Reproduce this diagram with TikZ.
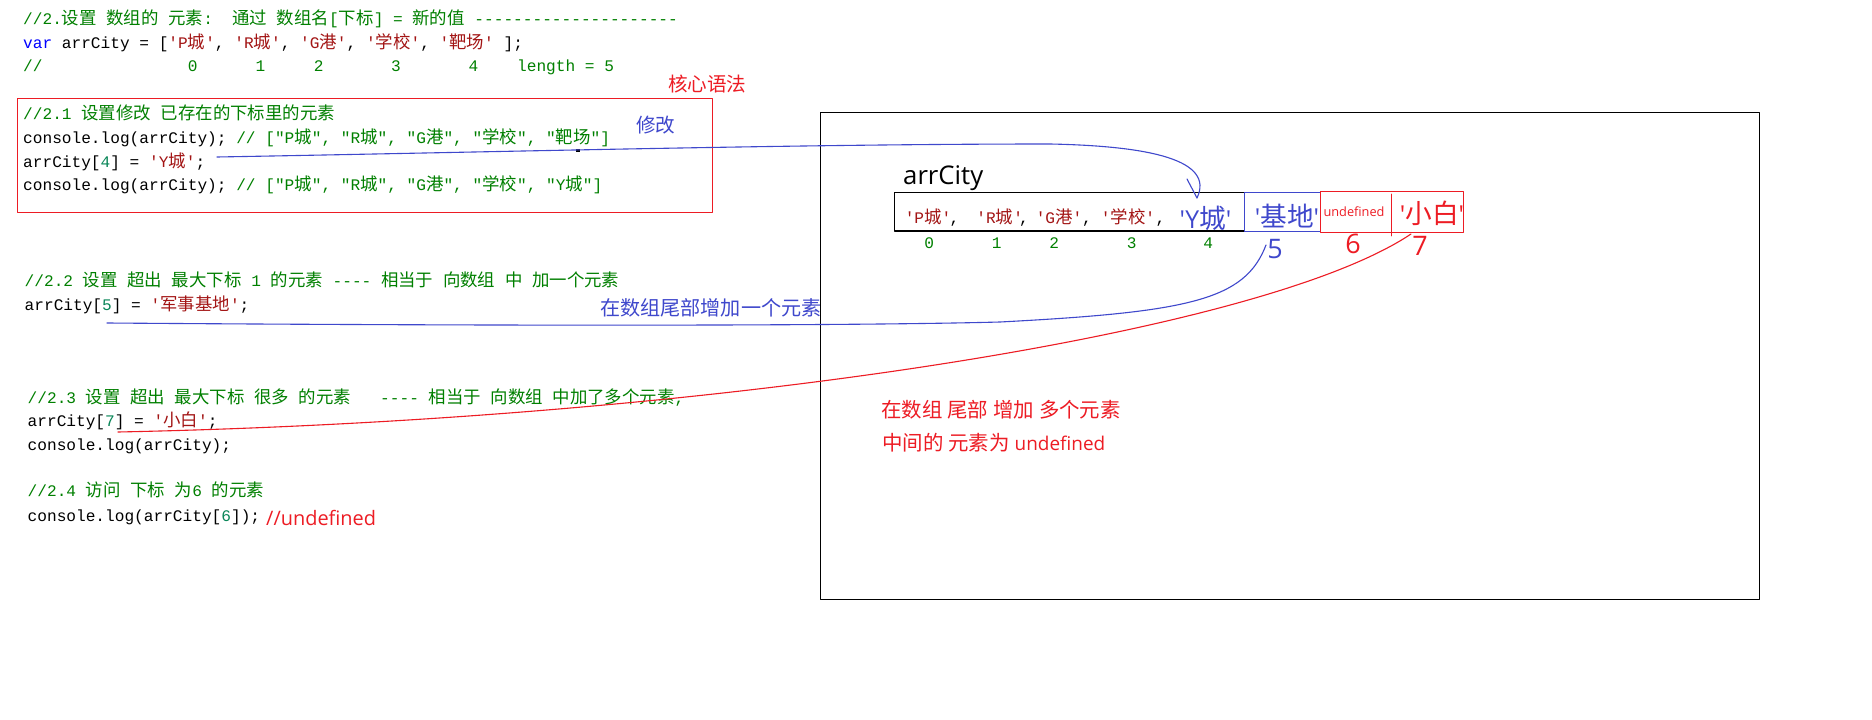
\documentclass[tikz,border=0pt]{standalone}
\usepackage{fontspec}
\setmonofont{Liberation Mono}
\newfontfamily\cjkf[Scale=1.08]{Noto Sans CJK SC}
\newfontfamily\latf[Ligatures=TeXOff]{Open Sans}
\makeatletter
\newXeTeXintercharclass\cjkcls
\count@="3000
\loop\ifnum\count@<"A000\relax
  \XeTeXcharclass\count@=\cjkcls
  \advance\count@ by 1\relax
\repeat
\count@="FF00
\loop\ifnum\count@<"FFF0\relax
  \XeTeXcharclass\count@=\cjkcls
  \advance\count@ by 1\relax
\repeat
\def\cjkon{\edef\savedfam{\f@family}\cjkf}
\def\cjkoff{\fontfamily{\savedfam}\selectfont}
\XeTeXinterchartoks 0 \cjkcls={\cjkon}
\XeTeXinterchartoks 4095 \cjkcls={\cjkon}
\XeTeXinterchartoks \cjkcls 0={\cjkoff}
\XeTeXinterchartoks \cjkcls 4095={\cjkoff}
\makeatother
\XeTeXinterchartokenstate=1
\definecolor{cmt}{HTML}{008000}
\definecolor{str}{HTML}{A31515}
\definecolor{kwd}{HTML}{0000FF}
\definecolor{num}{HTML}{098658}
\definecolor{pblue}{HTML}{3F48CC}
\definecolor{pred}{HTML}{ED1C24}
\newcommand\ccm[1]{\textcolor{cmt}{#1}}
\newcommand\cst[1]{\textcolor{str}{#1}}
\newcommand\ckw[1]{\textcolor{kwd}{#1}}
\newcommand\cnm[1]{\textcolor{num}{#1}}
\tikzset{
  code/.style={anchor=base west, inner sep=0pt, font=\ttfamily\fontsize{16.2}{19}\selectfont},
  codec/.style={code, anchor=base},
  ann/.style={anchor=base west, inner sep=0pt, font=\latf\fontsize{#1}{#1}\selectfont},
  annc/.style={ann=#1, anchor=base},
  bline/.style={draw=pblue, line width=1.1bp},
  rline/.style={draw=pred, line width=1.1bp},
}
\begin{document}
\begin{tikzpicture}[x=1bp,y=-1bp,line cap=round,line join=round]
\fill[white] (0,0) rectangle (1872,720);
\useasboundingbox (0,0) rectangle (1872,720);

% ---- code, top
\node[code] (l1) at (23,25) {\ccm{//2.设置 数组的 元素:~~通过 数组名[下标] = 新的值 ---------------------}};
\node[code] (l2) at (23,49) {\ckw{var} arrCity = [\cst{'P城'}, \cst{'R城'}, \cst{'G港'}, \cst{'学校'}, \cst{'靶场'} ];};
\node[code] (l3) at (23,72) {\ccm{//~~~~~~~~~~~~~~~0~~~~~~1~~~~~2~~~~~~~3~~~~~~~4~~~~length = 5}};

\node[ann=18.2, text=pred] (core) at (668,92) {核心语法};

% ---- 2.1
\draw[draw=pred, line width=1bp] (17,99) rectangle (712,212.3);
\node[code] (a1) at (23,120) {\ccm{//2.1 设置修改 已存在的下标里的元素}};
\node[code] (a2) at (23,143.5) {console.log(arrCity); \ccm{// ["P城", "R城", "G港", "学校", "靶场"]}};
\node[code] (a3) at (23,167.5) {arrCity[\cnm{4}] = \cst{'Y城'};};
\node[code] (a4) at (23,190.5) {console.log(arrCity); \ccm{// ["P城", "R城", "G港", "学校", "Y城"]}};
\node[ann=18.2, text=pblue] (modify) at (636,133) {修改};
\fill (576,149.5) rectangle (580,152);

% ---- 2.2
\node[code] (b1) at (24.5,286) {\ccm{//2.2 设置 超出 最大下标 1 的元素 ---- 相当于 向数组 中 加一个元素}};
\node[code] (b2) at (24.5,310) {arrCity[\cnm{5}] = \cst{'军事基地'};};
\node[ann=18.7, text=pblue] (addone) at (600,315.5) {在数组尾部增加一个元素};

% ---- 2.3
\node[code] (c1) at (27.5,403) {\ccm{//2.3 设置 超出 最大下标 很多 的元素~~~---- 相当于 向数组 中加了多个元素,}};
\node[code] (c2) at (27.5,426) {arrCity[\cnm{7}] = \cst{'小白'};};
\node[code] (c3) at (27.5,450) {console.log(arrCity);};

% ---- 2.4
\node[code] (d1) at (27.5,496.5) {\ccm{//2.4 访问 下标 为6 的元素}};
\node[code] (d2) at (27.5,521.5) {console.log(arrCity[\cnm{6}]);};
\node[ann=20, text=pred] (undef) at (266,525) {//undefined};

% ---- right panel
\draw[line width=1bp] (820,112.3) rectangle (1759,599);
\node[ann=25.8] (label) at (903,185) {arrCity};
\draw[line width=1.8bp] (894.5,192.5) rectangle (1244.5,231);
\draw[draw=pblue, line width=1bp] (1244.5,192.5) rectangle (1320.5,231.5);
\draw[draw=pred, line width=1bp] (1320.5,191) rectangle (1463,232.5);
\draw[draw=pred, line width=0.8bp] (1391,194) -- (1391,236);

\node[codec, text=str] (e0) at (928,223) {'P城'};
\node[codec] (k0) at (954.5,223) {,};
\node[codec, text=str] (e1) at (999.7,223) {'R城'};
\node[codec] (k1) at (1024,223) {,};
\node[codec, text=str] (e2) at (1059,223) {'G港'};
\node[codec] (k2) at (1087,223) {,};
\node[codec, text=str] (e3) at (1128,223) {'学校'};
\node[codec] (k3) at (1160.5,223) {,};
\node[annc=24.8, text=pblue] (e4) at (1205.5,228.5) {'Y城'};
\node[annc=24.8, text=pblue] (e5) at (1287,226) {'基地'};
\node[annc=12.8, text=pred] (e6) at (1354,216) {undefined};
\node[annc=24.8, text=pred] (e7) at (1432,223) {'小白'};

\node[codec, text=cmt] (i0) at (929.3,248.7) {0};
\node[codec, text=cmt] (i1) at (996.7,248.7) {1};
\node[codec, text=cmt] (i2) at (1054.3,248.7) {2};
\node[codec, text=cmt] (i3) at (1131.7,248.7) {3};
\node[codec, text=cmt] (i4) at (1208.3,248.7) {4};
\node[annc=27, text=pblue] (i5) at (1275,258) {5};
\node[annc=27, text=pred] (i6) at (1353,253.5) {6};
\node[annc=27, text=pred] (i7) at (1420,255) {7};

\node[ann=19, text=pred] (note1) at (881,417) {在数组 尾部 增加 多个元素};
\node[ann=19, text=pred] (note2) at (882,450.5) {中间的 元素为 undefined};

% ---- connectors
\coordinate (p1s) at (217,157);
\coordinate (p1m) at (1050,144);
\coordinate (p1e) at (1197,198);
\coordinate (p1b) at (1187,179);
\draw[bline] (p1s) .. controls (500,152) and (800,144) .. (p1m) .. controls (1150,146) and (1215,160) .. (p1e);
\draw[bline] (p1b) -- (p1e);

\coordinate (p2s) at (1266,245);
\coordinate (p2m) at (1000,322);
\coordinate (p2e) at (107,323);
\draw[bline] (p2s) .. controls (1245,300) and (1190,312) .. (p2m) .. controls (850,326) and (500,326) .. (p2e);

\coordinate (p3s) at (1411,234);
\coordinate (p3e) at (118,432);
\draw[rline] (p3s) .. controls (1260,335) and (700,420) .. (p3e);
\end{tikzpicture}
\end{document}
